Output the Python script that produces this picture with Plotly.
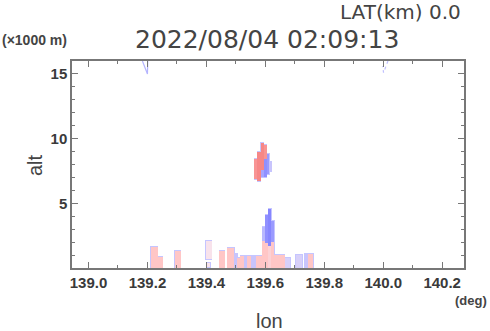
import plotly.graph_objects as go

# ---- data ----
# echo segments: lon start, lon end, bottom alt, top alt (x1000 m), radial velocity (m/s, + = away/red, - = toward/blue)
seg_lon0 = [139.212, 139.235, 139.293, 139.398, 139.403, 139.443, 139.470, 139.495, 139.505, 139.515,
            139.527, 139.537, 139.550, 139.567,
            139.590, 139.590, 139.600, 139.600, 139.610, 139.610, 139.620, 139.620,
            139.630, 139.665, 139.703, 139.733, 139.745,
            139.563, 139.573, 139.584, 139.584, 139.594, 139.594, 139.604, 139.614]
seg_lon1 = [139.235, 139.252, 139.313, 139.418, 139.413, 139.463, 139.495, 139.505, 139.515, 139.527,
            139.537, 139.550, 139.567, 139.590,
            139.600, 139.600, 139.610, 139.610, 139.620, 139.620, 139.630, 139.630,
            139.665, 139.685, 139.725, 139.745, 139.762,
            139.573, 139.584, 139.594, 139.594, 139.604, 139.604, 139.614, 139.621]
seg_base = [0.0, 0.0, 0.0, 0.7, 0.1, 0.0, 0.0, 0.0, 0.0, 0.0,
            0.0, 0.0, 0.0, 0.0,
            0.0, 2.1, 0.0, 1.9, 0.0, 1.7, 0.0, 2.0,
            0.0, 0.0, 0.0, 0.0, 0.0,
            6.9, 6.7, 7.6, 7.0, 8.4, 7.0, 7.3, 7.5]
seg_top = [1.6, 0.85, 1.35, 2.1, 0.4, 1.35, 1.55, 1.1, 0.8, 0.9,
           0.95, 0.95, 0.9, 0.95,
           2.1, 3.2, 1.9, 4.1, 1.7, 4.55, 2.0, 3.6,
           1.0, 0.75, 1.0, 1.05, 1.05,
           8.4, 9.0, 9.65, 7.6, 9.5, 8.4, 8.8, 8.2]
seg_vel = [3, 3, 3, 0.5, 0.5, 3, 3, -3, 3, 3,
           -3, 3, -3, 3,
           3, -4, 3, -8, 2, -9, 3, -7,
           3, -2, -2, -3, 3,
           7, 8, 8, -6, 7, -8, -7, -3]

# faint echo outlines near the top of the domain
cap1_lon = [139.183, 139.200, 139.201]
cap1_alt = [16.0, 15.0, 16.0]
cap2_lon = [140.016, 140.001, 139.998]
cap2_alt = [16.0, 15.1, 15.6]

xtick_vals = [139.0, 139.2, 139.4, 139.6, 139.8, 140.0, 140.2]
xtick_text = ["139.0", "139.2", "139.4", "139.6", "139.8", "140.0", "140.2"]
ytick_vals = [5, 10, 15]
ytick_text = ["5", "10", "15"]

title_text = "2022/08/04 02:09:13"
lat_text = "LAT(km) 0.0"

# ---- figure ----
xc = [(a + b) / 2 for a, b in zip(seg_lon0, seg_lon1)]
wd = [b - a for a, b in zip(seg_lon0, seg_lon1)]
hh = [t - b for b, t in zip(seg_base, seg_top)]

fig = go.Figure()
# thin blue outline halo behind the echoes
fig.add_trace(go.Bar(
    x=xc, y=[h + 0.16 for h in hh], base=[b - 0.08 for b in seg_base],
    width=[w + 0.0035 for w in wd],
    marker=dict(color="#b2b2ff", line=dict(width=0)),
    opacity=0.75, showlegend=False, hoverinfo="skip"))
fig.add_trace(go.Bar(
    x=xc, y=hh, base=seg_base, width=wd,
    marker=dict(color=seg_vel, cmin=-10, cmax=10,
                colorscale=[[0, "#7c7cff"], [0.3, "#b8b8ff"], [0.5, "#f6e8f2"],
                            [0.65, "#ffc6c6"], [1, "#f26e6e"]],
                line=dict(width=0)),
    showlegend=False))
fig.add_trace(go.Scatter(x=cap1_lon, y=cap1_alt, mode="lines",
                         line=dict(color="#b4b4ff", width=1.2), showlegend=False))
fig.add_trace(go.Scatter(x=cap2_lon, y=cap2_alt, mode="lines",
                         line=dict(color="#c0c0ff", width=1.2, dash="dot"), showlegend=False))

axcol = "#777777"
txtcol = "#444444"
fig.update_layout(
    width=490, height=331,
    margin=dict(l=72, r=26, t=61, b=63),
    paper_bgcolor="white", plot_bgcolor="white",
    barmode="overlay", bargap=0,
    font=dict(family="Liberation Sans, Arial, sans-serif", color=txtcol),
    xaxis=dict(range=[138.944, 140.274], tickmode="array", tickvals=xtick_vals, ticktext=xtick_text,
               ticks="inside", ticklen=6, tickwidth=1, tickcolor=axcol,
               minor=dict(dtick=0.1, tick0=139.0, ticks="inside", ticklen=3, tickcolor=axcol, showgrid=False),
               showline=True, linecolor=axcol, linewidth=1.5, mirror="allticks",
               showgrid=False, zeroline=False,
               tickfont=dict(size=15, weight="bold", color="#3a3a3a")),
    yaxis=dict(range=[0, 16], tickmode="array", tickvals=ytick_vals, ticktext=ytick_text,
               ticks="inside", ticklen=6, tickwidth=1, tickcolor=axcol,
               minor=dict(dtick=1, tick0=0, ticks="inside", ticklen=3, tickcolor=axcol, showgrid=False),
               showline=True, linecolor=axcol, linewidth=1.5, mirror="allticks",
               showgrid=False, zeroline=False,
               tickfont=dict(size=15, weight="bold", color="#3a3a3a")),
    annotations=[
        dict(text=title_text, xref="paper", yref="paper", x=0.497, y=1.106,
             xanchor="center", yanchor="middle", showarrow=False,
             font=dict(family="DejaVu Sans", size=25, color=txtcol)),
        dict(text=lat_text, xref="paper", yref="paper", x=0.998, y=1.236,
             xanchor="right", yanchor="middle", showarrow=False,
             font=dict(family="DejaVu Sans", size=20, color=txtcol)),
        dict(text="(×1000 m)", xref="paper", yref="paper", x=-0.184, y=1.101,
             xanchor="left", yanchor="middle", showarrow=False,
             font=dict(size=14, weight="bold", color=txtcol)),
        dict(text="alt", xref="paper", yref="paper", x=-0.094, y=0.498,
             xanchor="center", yanchor="middle", showarrow=False, textangle=-90,
             font=dict(size=20, color=txtcol)),
        dict(text="lon", xref="paper", yref="paper", x=0.503, y=-0.256,
             xanchor="center", yanchor="middle", showarrow=False,
             font=dict(size=20, color=txtcol)),
        dict(text="(deg)", xref="paper", yref="paper", x=1.064, y=-0.155,
             xanchor="right", yanchor="middle", showarrow=False,
             font=dict(size=13, weight="bold", color=txtcol)),
    ],
)

fig.write_html("out.html")
